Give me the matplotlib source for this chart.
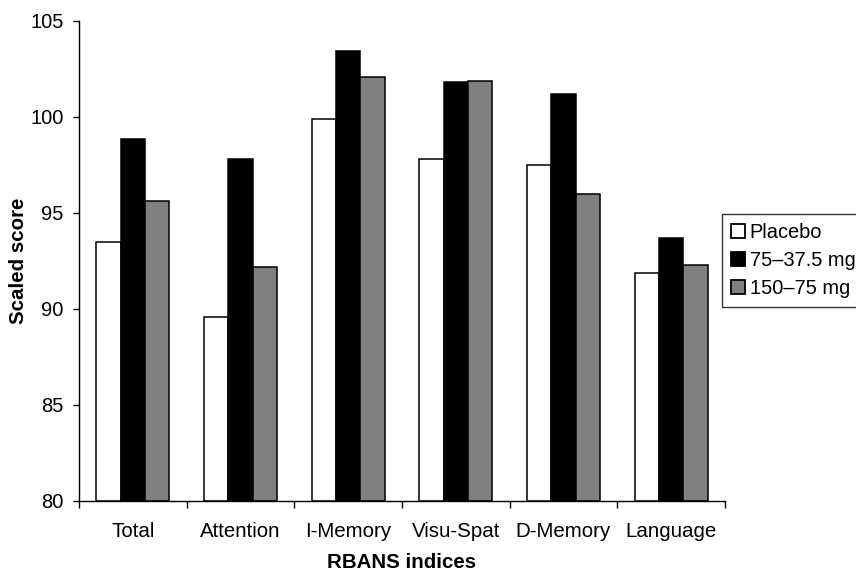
import matplotlib
matplotlib.use("Agg")
import matplotlib.pyplot as plt
from matplotlib.patches import Patch
import numpy as np

categories = ["Total", "Attention", "I-Memory", "Visu-Spat", "D-Memory", "Language"]
series_names = ["Placebo", "75\u201337.5 mg", "150\u201375 mg"]
placebo = [93.5, 89.6, 99.9, 97.8, 97.5, 91.9]
dose_low = [98.85, 97.8, 103.45, 101.8, 101.2, 93.7]
dose_high = [95.6, 92.2, 102.1, 101.9, 96.0, 92.3]
y_ticks = [80, 85, 90, 95, 100, 105]

plt.rcParams['font.family'] = ['Liberation Sans', 'DejaVu Sans']

W, H = 856, 574
fig = plt.figure(figsize=(W / 100, H / 100), dpi=100)
ax = fig.add_axes([79 / W, 1 - 501 / H, (725 - 79) / W, (501 - 21) / H])

colors = ["white", "black", "#808080"]
values = [placebo, dose_low, dose_high]
bw = 0.227
centers = np.arange(len(categories)) + 0.5
for i, (vals, c) in enumerate(zip(values, colors)):
    ax.bar(centers + (i - 1) * bw, np.array(vals) - 80, bottom=80, width=bw,
           color=c, edgecolor="black", linewidth=1.1, zorder=2)

ax.set_xlim(0, len(categories))
ax.set_ylim(80, 105)
ax.set_yticks(y_ticks)
ax.set_yticklabels([str(v) for v in y_ticks])
ax.set_xticks(centers)
ax.set_xticklabels(categories)
ax.set_xticks(np.arange(len(categories) + 1), minor=True)
ax.tick_params(axis="x", which="major", length=0, pad=15, labelsize=14.8)
ax.tick_params(axis="x", which="minor", length=5, width=1, direction="out")
ax.tick_params(axis="y", which="major", length=4, width=1, pad=7, labelsize=14.5)

for s in ["top", "right"]:
    ax.spines[s].set_visible(False)
for s in ["left", "bottom"]:
    ax.spines[s].set_linewidth(1.0)

ax.set_ylabel("Scaled score", fontsize=14.8, fontweight="bold")
ax.yaxis.set_label_coords((28 - 79) / 646, 0.5)
ax.set_xlabel("RBANS indices", fontsize=14.8, fontweight="bold")
ax.xaxis.set_label_coords(0.5, (501 - 553) / 480)

handles = [Patch(facecolor=c, edgecolor="black", linewidth=1.3) for c in colors]
leg = fig.legend(handles, series_names, loc="upper left",
                 bbox_to_anchor=(722 / W, 1 - 214 / H), bbox_transform=fig.transFigure,
                 fontsize=14.4, frameon=True, fancybox=False, shadow=False,
                 borderaxespad=0, borderpad=0.45, handlelength=0.72, handleheight=0.72,
                 handletextpad=0.22, labelspacing=0.45)
leg.get_frame().set_edgecolor("black")
leg.get_frame().set_linewidth(1.0)

fig.savefig("out.png", dpi=100)
